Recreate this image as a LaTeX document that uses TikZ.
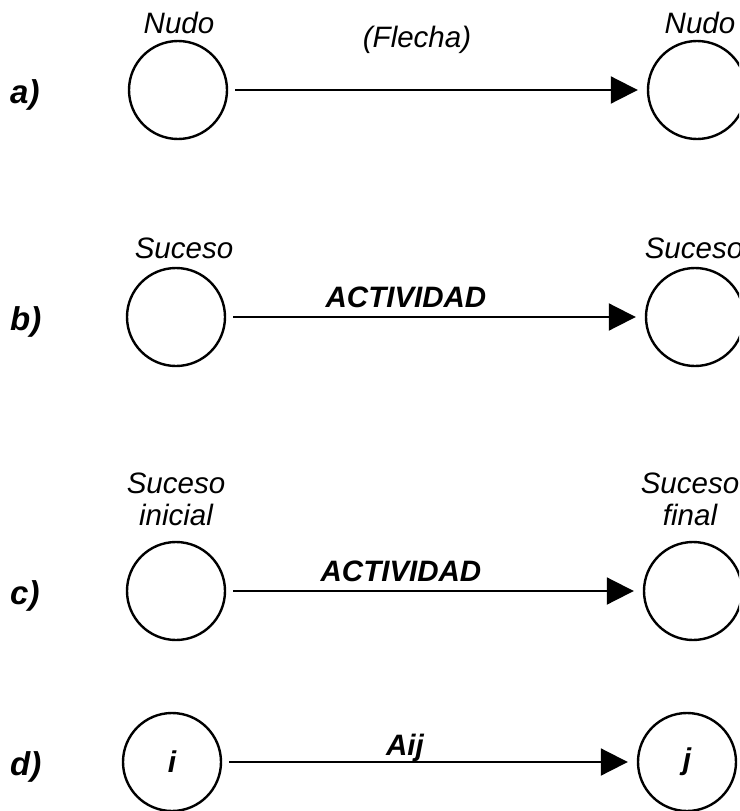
\documentclass[tikz,border=0pt]{standalone}
\usepackage{fontspec}
\setmainfont{Liberation Sans}
\usetikzlibrary{arrows.meta}
\begin{document}
\begin{tikzpicture}[x=1pt,y=-1pt,
  evento/.style={circle,draw,line width=2.4pt,minimum size=98pt,inner sep=0pt,
    font=\fontsize{30}{33}\selectfont\bfseries\itshape},
  flecha/.style={line width=2pt,-{Triangle[length=27pt,width=27pt]},
    shorten <=7pt,shorten >=9pt},
  rotulo/.style={font=\fontsize{29.5}{32}\selectfont\itshape,anchor=base,
    inner sep=0pt,align=center},
  negrita/.style={font=\fontsize{29.5}{33}\selectfont\bfseries\itshape,anchor=base,
    inner sep=0pt},
  fila/.style={font=\fontsize{33}{36}\selectfont\bfseries\itshape,anchor=base west,
    inner sep=0pt}]
\useasboundingbox (0,0) rectangle (739,811);
\clip (0,0) rectangle (739,811);

% a) nudo -- flecha -- nudo
\node[fila] (la) at (10,103) {a)};
\node[evento] (a1) at (178,90) {};
\node[evento] (a2) at (697,90) {};
\draw[flecha] (a1) -- (a2);
\node[rotulo] (ta1) at (179,33) {Nudo};
\node[rotulo] (ta2) at (700,33) {Nudo};
\node[rotulo] (fa) at (417,47) {(Flecha)};

% b) suceso -- actividad -- suceso
\node[fila] (lb) at (10,330) {b)};
\node[evento] (b1) at (176,317) {};
\node[evento] (b2) at (695,317) {};
\draw[flecha] (b1) -- (b2);
\node[rotulo] (tb1) at (184,258) {Suceso};
\node[rotulo] (tb2) at (694,258) {Suceso};
\node[negrita] (fb) at (406,307) {ACTIVIDAD};

% c) suceso inicial -- actividad -- suceso final
\node[fila] (lc) at (10,604) {c)};
\node[evento] (c1) at (176,591) {};
\node[evento] (c2) at (693,591) {};
\draw[flecha] (c1) -- (c2);
\node[rotulo] (tc1) at (176,525) {Suceso\\inicial};
\node[rotulo] (tc2) at (690,525) {Suceso\\final};
\node[negrita] (fc) at (401,581) {ACTIVIDAD};

% d) i -- Aij -- j
\node[fila] (ld) at (10,775) {d)};
\node[evento] (d1) at (172,762) {i};
\node[evento] (d2) at (687,762) {j};
\draw[flecha] (d1) -- (d2);
\node[negrita] (fd) at (405,755) {Aij};
\end{tikzpicture}
\end{document}
